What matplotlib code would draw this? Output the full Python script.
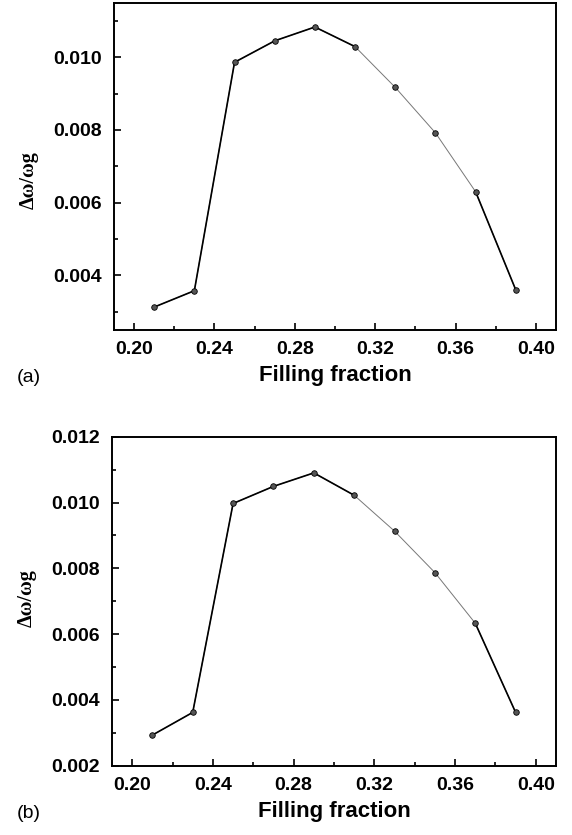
import matplotlib
matplotlib.use('Agg')
import matplotlib.pyplot as plt
import matplotlib.ticker as ticker

# filling fraction
fill = [0.21, 0.23, 0.25, 0.27, 0.29, 0.31, 0.33, 0.35, 0.37, 0.39]
# gap width / midgap frequency, panel (a) and (b)
gap_a = [0.00313, 0.00358, 0.00986, 0.01045, 0.01083, 0.01029, 0.00917, 0.00792, 0.00630, 0.00360]
gap_b = [0.00293, 0.00362, 0.00997, 0.01049, 0.01090, 0.01022, 0.00913, 0.00787, 0.00633, 0.00362]

xticks = [0.20, 0.24, 0.28, 0.32, 0.36, 0.40]
yticks_a = [0.004, 0.006, 0.008, 0.010]
yticks_b = [0.002, 0.004, 0.006, 0.008, 0.010, 0.012]

plt.rcParams['font.family'] = ['Liberation Sans', 'DejaVu Sans']

fig = plt.figure(figsize=(5.72, 8.35), dpi=100)
ax_a = fig.add_axes([0.1993, 0.6048, 0.7727, 0.3916])
ax_b = fig.add_axes([0.1958, 0.0830, 0.7762, 0.3940])


def draw(ax, y, yticks, ylim, tag, tag_y, ylab_y):
    # thin grey line under everything, heavier black pieces on top
    ax.plot(fill, y, color='#777777', lw=0.7, zorder=2)
    ax.plot(fill[:6], y[:6], color='black', lw=1.2, zorder=3)
    ax.plot(fill[8:], y[8:], color='black', lw=1.2, zorder=3)
    ax.plot(fill, y, ls='none', marker='o', ms=4, mfc='#555555', mec='black',
            mew=0.6, zorder=4)

    ax.set_xlim(0.19, 0.41)
    ax.set_ylim(*ylim)
    ax.set_xticks(xticks)
    ax.set_yticks(yticks)
    ax.xaxis.set_major_formatter(ticker.FormatStrFormatter('%.2f'))
    ax.yaxis.set_major_formatter(ticker.FormatStrFormatter('%.3f'))
    ax.xaxis.set_minor_locator(ticker.AutoMinorLocator(2))
    ax.yaxis.set_minor_locator(ticker.AutoMinorLocator(2))
    ax.tick_params(which='both', direction='in', width=1.2, labelsize=14)
    ax.tick_params(which='major', length=5)
    ax.tick_params(which='minor', length=3)
    ax.tick_params(axis='x', pad=8)
    ax.tick_params(axis='y', pad=9)
    for lab in ax.get_xticklabels() + ax.get_yticklabels():
        lab.set_fontweight('bold')
    for sp in ax.spines.values():
        sp.set_linewidth(1.4)

    ax.set_xlabel('Filling fraction', fontsize=16, fontweight='bold', labelpad=5)
    ax.set_ylabel('Δω/ωg', fontsize=14.5, fontweight='bold',
                  family=['Liberation Serif', 'DejaVu Serif'])
    ax.yaxis.set_label_coords(-0.17, ylab_y)
    fig.text(0.03, tag_y, tag, fontsize=14, va='center', ha='left')


draw(ax_a, gap_a, yticks_a, (0.0025, 0.01149), '(a)', 1 - 378 / 835, 0.46)
draw(ax_b, gap_b, yticks_b, (0.002, 0.012), '(b)', 1 - 813 / 835, 0.51)

fig.savefig('out.png', dpi=100)
